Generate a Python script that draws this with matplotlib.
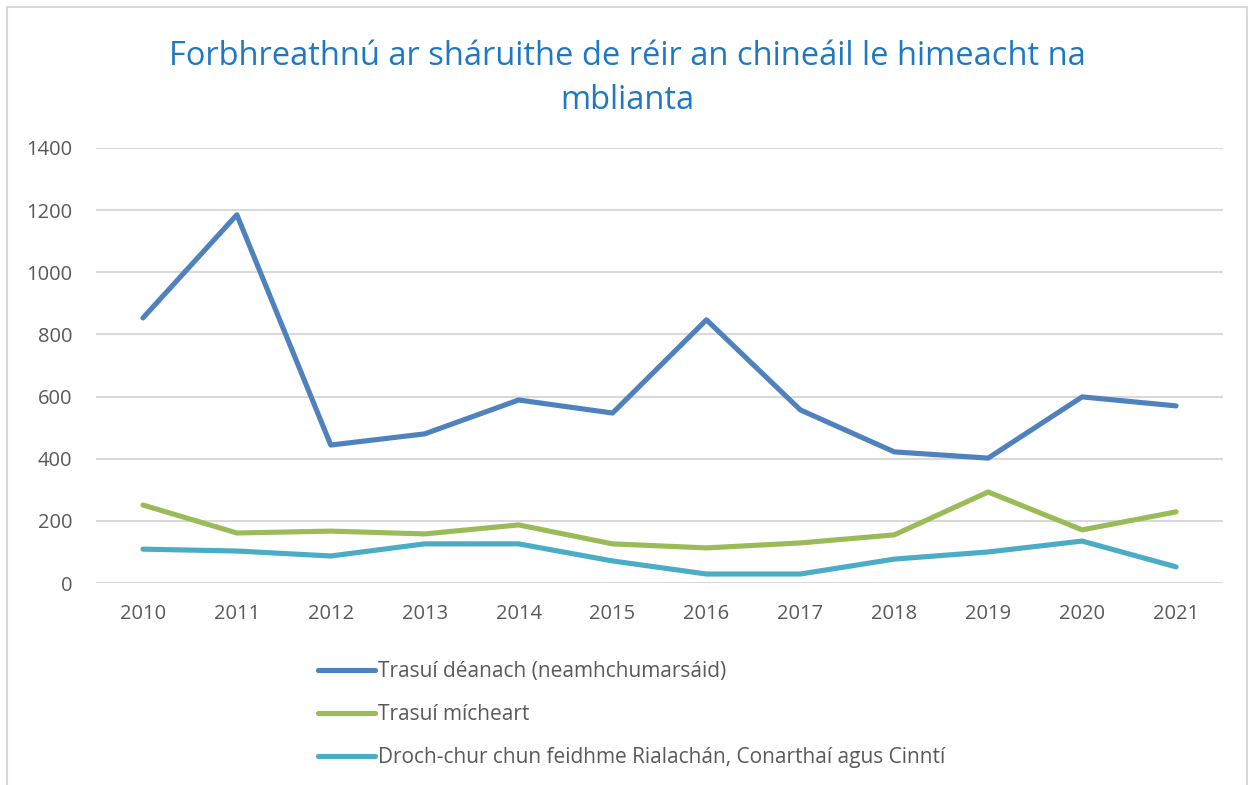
import matplotlib
matplotlib.use("Agg")
import matplotlib.pyplot as plt
from matplotlib.patches import Rectangle

# data
years = ["2010", "2011", "2012", "2013", "2014", "2015", "2016", "2017", "2018", "2019", "2020", "2021"]
late = [853, 1185, 444, 480, 589, 547, 847, 557, 422, 402, 599, 570]
wrong = [251, 161, 167, 158, 187, 126, 113, 129, 155, 293, 171, 229]
bad_impl = [109, 103, 87, 126, 126, 71, 29, 29, 77, 100, 135, 52]

labels = [
    "Trasuí déanach (neamhchumarsáid)",
    "Trasuí mícheart",
    "Droch-chur chun feidhme Rialachán, Conarthaí agus Cinntí",
]
colors = ["#4f81bd", "#9bbb59", "#4bacc6"]

plt.rcParams['font.family'] = ['Open Sans', 'DejaVu Sans']

fig = plt.figure(figsize=(12.5, 7.85), dpi=100)
ax = fig.add_axes([0.0768, 0.2573, 0.9016, 0.5542])

x = list(range(len(years)))
for series, lab, col in zip([late, wrong, bad_impl], labels, colors):
    ax.plot(x, series, color=col, linewidth=3.7, label=lab, solid_capstyle='round')

ax.set_xlim(-0.5, len(years) - 0.5)
ax.set_ylim(0, 1400)
ax.set_yticks(range(0, 1401, 200))
ax.set_xticks(x)
ax.set_xticklabels(years)
ax.tick_params(axis='both', length=0, labelsize=14.5, colors='#595959')
ax.tick_params(axis='x', pad=15)
ax.tick_params(axis='y', pad=17)
ax.grid(axis='y', color='#d9d9d9', linewidth=1.5)
ax.set_axisbelow(True)
for s in ax.spines.values():
    s.set_visible(False)

fig.text(0.502, 0.9, "Forbhreathnú ar sháruithe de réir an chineáil le himeacht na\nmblianta",
         ha='center', va='center', fontsize=23.5, color='#1f78c1', linespacing=1.42)

leg = fig.legend(loc='upper left', bbox_to_anchor=(0.239, 0.182), frameon=False,
                 fontsize=15, handlelength=2.75, handletextpad=0.15, labelspacing=1.06,
                 labelcolor='#595959')

# outer chart border
fig.patches.append(Rectangle((0.0056, -0.01), 0.9922, 1.001, transform=fig.transFigure,
                             fill=False, edgecolor='#d9d9d9', linewidth=1.5))

fig.savefig("out.png", dpi=100)
